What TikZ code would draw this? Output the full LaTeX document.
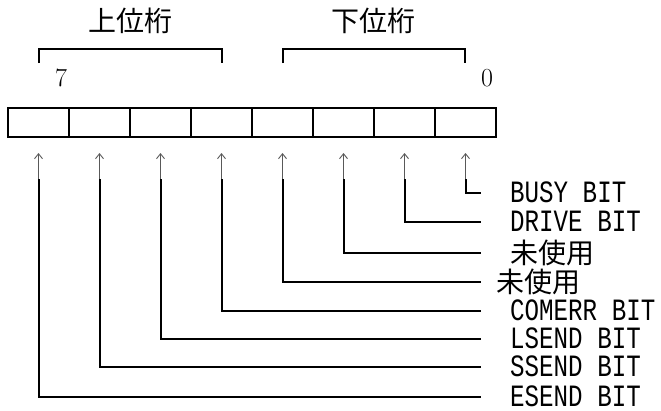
\documentclass[tikz,border=0pt]{standalone}
\usepackage{fontspec}
\setmonofont[FakeStretch=0.78]{Liberation Mono}
\newfontfamily\jpfont{Noto Sans CJK JP}
\usetikzlibrary{positioning}
\usetikzlibrary{arrows.meta}

\begin{document}
\begin{tikzpicture}[
                x=1pt, y=-1pt,
                node distance=0pt,
                cell/.style={draw, line width=2pt, minimum width=61pt, minimum height=29pt, inner sep=0pt, outer sep=0pt},
                lead/.style={line width=2pt},
                tick/.style={gray!70!black, line width=0.9pt, -{Straight Barb[length=5pt,width=8pt]}},
                bitlabel/.style={anchor=west, inner xsep=29pt, inner ysep=0pt, text height=18pt, text depth=0pt, font=\fontsize{31}{31}\selectfont\ttfamily},
                jplabel/.style={anchor=west, inner ysep=0pt, font=\fontsize{28}{28}\selectfont\jpfont},
                digit/.style={font=\fontsize{26}{26}\selectfont}
            ]
            \useasboundingbox (0,0) rectangle (661,410);

            % Register cells, bit 7 on the left
            \node[cell] (b7) at (38.5,122.5) {};
            \node[cell, right=of b7] (b6) {};
            \node[cell, right=of b6] (b5) {};
            \node[cell, right=of b5] (b4) {};
            \node[cell, right=of b4] (b3) {};
            \node[cell, right=of b3] (b2) {};
            \node[cell, right=of b2] (b1) {};
            \node[cell, right=of b1] (b0) {};

            % Titles and bit numbers
            \node[font=\fontsize{28}{28}\selectfont\jpfont] (upper) at (130,21) {上位桁};
            \node[font=\fontsize{28}{28}\selectfont\jpfont] (lower) at (373,21) {下位桁};
            \node[digit] (n7) at (61,78) {7};
            \node[digit] (n0) at (487,78) {0};

            % Brackets
            \draw[lead] (39,63) -- (39,49) -- (222,49) -- (222,63);
            \draw[lead] (283,63) -- (283,49) -- (465,49) -- (465,63);

            % Bit labels
            \node[bitlabel] (lab0) at (481,193) {BUSY BIT};
            \node[bitlabel] (lab1) at (481,222) {DRIVE BIT};
            \node[jplabel, inner xsep=29pt] (lab2) at (481,253) {未使用};
            \node[jplabel, inner xsep=15pt] (lab3) at (481,282) {未使用};
            \node[bitlabel] (lab4) at (481,311) {COMERR BIT};
            \node[bitlabel] (lab5) at (481,339) {LSEND BIT};
            \node[bitlabel] (lab6) at (481,367) {SSEND BIT};
            \node[bitlabel] (lab7) at (481,397) {ESEND BIT};

            % Arrows and leaders
            \foreach \i in {0,...,7} {
                \coordinate (tip\i) at ([yshift=-16pt]b\i.south);
                \coordinate (foot\i) at ([yshift=-42pt]b\i.south);
                \draw[tick] (foot\i) -- (tip\i);
                \draw[lead] (foot\i) |- (lab\i.west);
            }

        \end{tikzpicture}
\end{document}
